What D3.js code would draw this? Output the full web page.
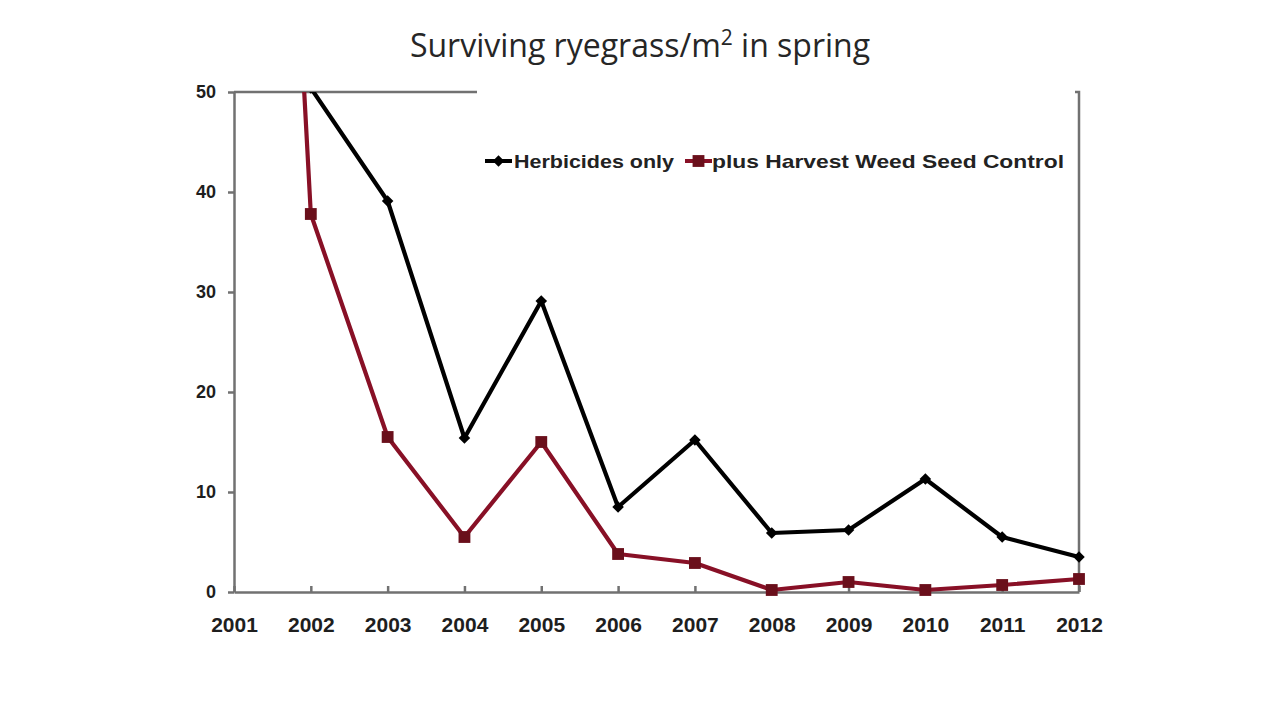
<!DOCTYPE html>
<html>
<head>
<meta charset="utf-8">
<script src="https://cdn.jsdelivr.net/npm/d3@7"></script>
<style>
  html, body { margin: 0; padding: 0; background: #fff; }
  svg { display: block; }
  .axis path, .axis line { stroke: #717171; stroke-width: 2.5px; }
  .axis text { font-family: "Liberation Sans", Arial, sans-serif; font-weight: bold; fill: #1e1e1e; }
</style>
</head>
<body>
<svg id="svg" width="1280" height="720"></svg>
<script>
// ----- Data -----
const years = [2001, 2002, 2003, 2004, 2005, 2006, 2007, 2008, 2009, 2010, 2011, 2012];
// 2001 black is off the chart (not readable), 2002 black just above 50 (clipped)
const herbicidesOnly = [null, 50.4, 39.1, 15.4, 29.1, 8.5, 15.2, 5.9, 6.2, 11.3, 5.5, 3.5];
const plusHWSC = [180, 37.8, 15.5, 5.5, 15.0, 3.8, 2.9, 0.2, 1.0, 0.2, 0.7, 1.3];
const yTicks = [0, 10, 20, 30, 40, 50];
const seriesNames = ["Herbicides only", "plus Harvest Weed Seed Control"];

const svg = d3.select("#svg");

const x = d3.scaleLinear().domain([2001, 2012]).range([234, 1079]);
const y = d3.scaleLinear().domain([0, 50]).range([592, 92]);

// title
const title = svg.append("text")
  .attr("x", 640)
  .attr("y", 57)
  .attr("text-anchor", "middle")
  .attr("font-family", "'Open Sans', 'Noto Sans', sans-serif")
  .attr("font-size", 32)
  .attr("fill", "#262626");
title.append("tspan").text("Surviving ryegrass/m");
title.append("tspan").attr("dy", -12).attr("font-size", 21).text("2");
title.append("tspan").attr("dy", 12).text(" in spring");

// plot border (top + right), partly hidden under the legend box
svg.append("path")
  .attr("d", `M${x(2001)},${y(50)}H${x(2012)}V${y(0)}`)
  .attr("fill", "none")
  .attr("stroke", "#717171")
  .attr("stroke-width", 2.5);

// axes
svg.append("g")
  .attr("class", "axis")
  .attr("transform", `translate(${x(2001)},0)`)
  .call(d3.axisLeft(y).tickValues(yTicks).tickSize(6).tickPadding(12).tickSizeOuter(0))
  .call(g => g.selectAll("text").attr("font-size", 18));

svg.append("g")
  .attr("class", "axis")
  .attr("transform", `translate(0,${y(0)})`)
  .call(d3.axisBottom(x).tickValues(years).tickFormat(d3.format("d")).tickSize(-6).tickPadding(25).tickSizeOuter(0))
  .call(g => g.selectAll("text").attr("font-size", 21));

// clip to plot area
svg.append("clipPath").attr("id", "plotClip")
  .append("rect")
  .attr("x", x(2001) - 10).attr("y", y(50))
  .attr("width", x(2012) - x(2001) + 20).attr("height", y(0) - y(50) + 10);

const plot = svg.append("g").attr("clip-path", "url(#plotClip)");

const line = d3.line()
  .defined(d => d[1] !== null)
  .x(d => x(d[0]))
  .y(d => y(d[1]));

const blackPts = years.map((yr, i) => [yr, herbicidesOnly[i]]);
const redPts = years.map((yr, i) => [yr, plusHWSC[i]]);

plot.append("path")
  .datum(blackPts)
  .attr("d", line)
  .attr("fill", "none")
  .attr("stroke", "#000")
  .attr("stroke-width", 4.2)
  .attr("stroke-linejoin", "round");

plot.append("path")
  .datum(redPts)
  .attr("d", line)
  .attr("fill", "none")
  .attr("stroke", "#881026")
  .attr("stroke-width", 4.2)
  .attr("stroke-linejoin", "round");

const diamond = d3.symbol().type(d3.symbolDiamond2).size(85);
const square = d3.symbol().type(d3.symbolSquare).size(140);

plot.selectAll(".bm")
  .data(blackPts.filter(d => d[1] !== null))
  .enter().append("path")
  .attr("class", "bm")
  .attr("transform", d => `translate(${x(d[0])},${y(d[1])})`)
  .attr("d", diamond)
  .attr("fill", "#000");

plot.selectAll(".rm")
  .data(redPts)
  .enter().append("path")
  .attr("class", "rm")
  .attr("transform", d => `translate(${x(d[0])},${y(d[1])})`)
  .attr("d", square)
  .attr("fill", "#6a0f1b");

// legend box (white, no border) covering the top border
const lg = svg.append("g");
lg.append("rect")
  .attr("x", 477).attr("y", 86)
  .attr("width", 598).attr("height", 150)
  .attr("fill", "#fff");

const legendItems = [
  { name: seriesNames[0], color: "#000", sym: diamond, mark: "#000", x0: 485, tx: 514, tl: 160 },
  { name: seriesNames[1], color: "#881026", sym: square, mark: "#6a0f1b", x0: 685, tx: 712, tl: 352 }
];
const ly = 161;
legendItems.forEach(it => {
  lg.append("line")
    .attr("x1", it.x0).attr("x2", it.x0 + 27)
    .attr("y1", ly).attr("y2", ly)
    .attr("stroke", it.color).attr("stroke-width", 4);
  lg.append("path")
    .attr("transform", `translate(${it.x0 + 13.5},${ly})`)
    .attr("d", it.sym)
    .attr("fill", it.mark);
  lg.append("text")
    .attr("x", it.tx).attr("y", ly + 7)
    .attr("font-family", "'Liberation Sans', Arial, sans-serif")
    .attr("font-weight", "bold")
    .attr("font-size", 19)
    .attr("fill", "#222")
    .attr("textLength", it.tl)
    .attr("lengthAdjust", "spacingAndGlyphs")
    .text(it.name);
});
</script>
</body>
</html>
